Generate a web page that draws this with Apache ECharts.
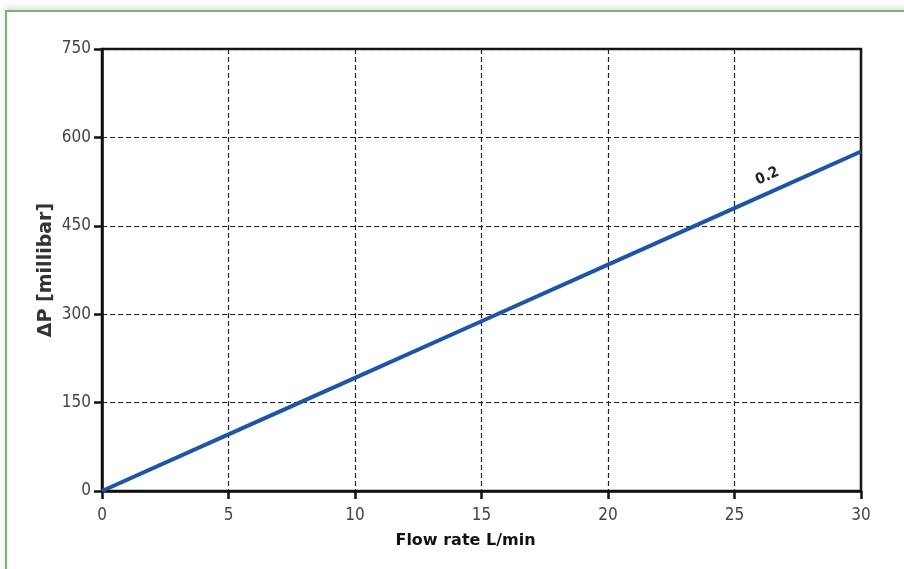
<!DOCTYPE html>
<html>
<head>
<meta charset="utf-8">
<style>
html,body{margin:0;padding:0;background:#fff;overflow:hidden;}
#c{position:absolute;left:0;top:0;width:904px;height:569px;}
#frame{position:absolute;left:5px;top:10px;width:940px;height:600px;border-left:2px solid #72b872;border-top:2px solid #72b872;box-shadow:0 -3px 6px rgba(0,0,0,0.12);pointer-events:none;}
</style>
<script src="https://cdn.jsdelivr.net/npm/echarts@6/dist/echarts.min.js"></script>
</head>
<body>
<div id="frame"></div>
<div id="c"></div>
<script>
var flowRate = [0, 5, 10, 15, 20, 25, 30];
var pressure = [0, 96, 192, 288, 384, 480, 576];
var seriesName = '0.2';
var xTitle = 'Flow rate L/min';
var yTitle = 'ΔP [millibar]';

var chart = echarts.init(document.getElementById('c'));
var narrow = "'Liberation Sans Narrow', 'DejaVu Sans Condensed', 'Liberation Sans', sans-serif";
chart.setOption({
  animation: false,
  grid: {left: 102, right: 43, top: 49, bottom: 78, show: true, borderColor: '#111', borderWidth: 2.5, backgroundColor: 'transparent'},
  xAxis: {
    type: 'value', min: 0, max: 30, interval: 5,
    name: xTitle, nameLocation: 'middle', nameGap: 42, nameMoveOverlap: false,
    nameTextStyle: {fontFamily: 'DejaVu Sans', fontWeight: 'bold', fontSize: 16, color: '#111', padding: [0, 0, 0, -32]},
    axisLine: {show: true, lineStyle: {color: '#111', width: 2.5}},
    axisTick: {show: true, length: 8, lineStyle: {color: '#111', width: 2.5}},
    axisLabel: {fontFamily: narrow, fontSize: 17, color: '#444', margin: 16},
    splitLine: {show: true, lineStyle: {color: '#222', width: 1.2, type: [5, 3]}}
  },
  yAxis: {
    type: 'value', min: 0, max: 750, interval: 150,
    name: yTitle, nameLocation: 'middle', nameGap: 46, nameRotate: 90, nameMoveOverlap: false,
    nameTextStyle: {fontFamily: 'DejaVu Sans', fontWeight: 'bold', fontSize: 19, color: '#333'},
    axisLine: {show: true, lineStyle: {color: '#111', width: 2.5}},
    axisTick: {show: true, length: 8, lineStyle: {color: '#111', width: 2.5}},
    axisLabel: {fontFamily: narrow, fontSize: 17, color: '#444', margin: 11},
    splitLine: {show: true, lineStyle: {color: '#222', width: 1.2, type: [5, 3]}}
  },
  series: [{
    name: seriesName,
    type: 'line',
    data: flowRate.map(function (x, i) { return [x, pressure[i]]; }),
    showSymbol: false,
    lineStyle: {color: '#1f55a8', width: 4},
    markPoint: {
      symbol: 'circle', symbolSize: 0,
      data: [{coord: [26.3, 534], value: seriesName}],
      label: {show: true, formatter: seriesName, rotate: 24, fontFamily: narrow, fontWeight: 'bold', fontSize: 15, color: '#222', position: 'inside'}
    }
  }]
});
</script>
</body>
</html>
